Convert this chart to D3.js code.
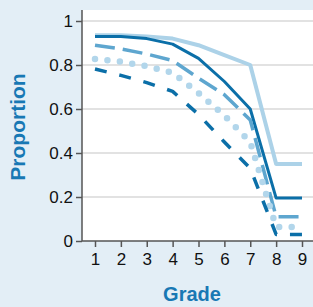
<!DOCTYPE html>
<html><head><meta charset="utf-8">
<script src="https://cdn.jsdelivr.net/npm/d3@7/dist/d3.min.js"></script>
<style>body{margin:0;background:#e3eef6;}svg{display:block;}</style>
</head><body>
<script>
const grades = [1,2,3,4,5,6,7,8,9];
const yTicks = [0,0.2,0.4,0.6,0.8,1];
const yTickLabels = ["0","0.2","0.4","0.6","0.8","1"];
const lightSolid = [0.935,0.935,0.93,0.92,0.89,0.845,0.8,0.35,0.35];
const darkSolid  = [0.93,0.93,0.92,0.895,0.83,0.725,0.6,0.195,0.195];
const medDashed  = [0.89,0.873,0.85,0.82,0.74,0.665,0.55,0.11,0.11];
const dotted     = [0.827,0.815,0.795,0.765,0.673,0.57,0.45,0.064,0.064];
const darkDashed = [0.782,0.753,0.72,0.68,0.575,0.45,0.33,0.03,0.03];

const W=313,H=307;
const svg=d3.select("body").append("svg").attr("width",W).attr("height",H);
svg.append("rect").attr("width",W).attr("height",H).attr("fill","#e3eef6");
const x=d3.scaleLinear().domain([1,9]).range([95,302]);
const y=d3.scaleLinear().domain([0,1]).range([241,21]);
svg.append("rect").attr("x",82).attr("y",10).attr("width",W-82).attr("height",231).attr("fill","#fff");
svg.append("g").selectAll("line").data(yTicks.slice(1)).join("line")
  .attr("x1",82).attr("x2",W).attr("y1",d=>y(d)).attr("y2",d=>y(d))
  .attr("stroke","#d9d9d9").attr("stroke-width",1.5);
const font="Liberation Sans, Arial, sans-serif";
const yAxis=svg.append("g").attr("transform","translate(82,0)")
  .call(d3.axisLeft(y).tickValues(yTicks).tickFormat((d,i)=>yTickLabels[i]).tickSize(6).tickSizeOuter(0));
const xAxis=svg.append("g").attr("transform","translate(0,241)")
  .call(d3.axisBottom(x).tickValues(grades).tickSize(6).tickSizeOuter(0));
[yAxis,xAxis].forEach(a=>{
  a.selectAll("path,line").attr("stroke","#555").attr("stroke-width",1.5);
  a.selectAll("text").attr("font-family",font).attr("font-size",17).attr("fill","#111");
});
yAxis.select(".domain").attr("d","M0,241V10");
xAxis.select(".domain").attr("d","M82,0H"+W);
yAxis.selectAll("text").attr("x",-9).attr("dy","0.35em");
xAxis.selectAll("text").attr("y",12);

const line=d3.line().x((d,i)=>x(grades[i])).y(d=>y(d));
const series=[
  {v:lightSolid,c:"#acd2e8",w:4,dash:null,cap:"butt"},
  {v:darkSolid,c:"#0b6fa8",w:3,dash:null,cap:"butt"},
  {v:medDashed,c:"#5ea6cf",w:3.5,dash:"20,8",cap:"butt"},
  {v:dotted,c:"#b2d6eb",w:6.5,dash:"0,12.5",cap:"round"},
  {v:darkDashed,c:"#0b6fa8",w:3.5,dash:"12,13",cap:"butt"}
];
series.forEach(s=>{
  svg.append("path").attr("d",line(s.v)).attr("fill","none").attr("stroke",s.c)
    .attr("stroke-width",s.w).attr("stroke-dasharray",s.dash).attr("stroke-linecap",s.cap)
    .attr("stroke-linejoin","round");
});
svg.append("text").attr("transform","translate(25,127) rotate(-90)").attr("text-anchor","middle")
  .attr("font-family",font).attr("font-size",21).attr("font-weight","bold").attr("fill","#1878b4").text("Proportion");
svg.append("text").attr("x",192).attr("y",301).attr("text-anchor","middle")
  .attr("font-family",font).attr("font-size",20).attr("font-weight","bold").attr("fill","#1878b4").text("Grade");
</script>
</body></html>
